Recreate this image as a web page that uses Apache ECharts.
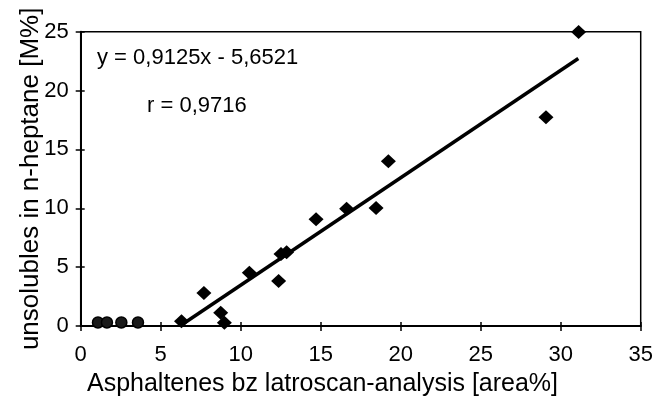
<!DOCTYPE html>
<html>
<head>
<meta charset="utf-8">
<script src="https://cdn.jsdelivr.net/npm/echarts@6/dist/echarts.min.js"></script>
<style>
html,body{margin:0;padding:0;background:#fff;}
#chart{width:660px;height:398px;}
</style>
</head>
<body>
<div id="chart"></div>
<script>
// Measured samples (x = Asphaltenes area%, y = unsolubles M%)
const samplesX = [6.3, 7.7, 8.75, 8.98, 10.54, 12.37, 12.52, 12.87, 14.71, 16.62, 18.46, 19.23, 29.08, 31.12];
const samplesY = [0.4, 2.8, 1.13, 0.28, 4.53, 3.83, 6.12, 6.26, 9.07, 9.95, 10.03, 14.0, 17.74, 24.97];
// Samples with no asphaltene response (hatched circles)
const zeroX = [1.08, 1.64, 2.54, 3.58];
const zeroY = [0.3, 0.3, 0.3, 0.3];
// Regression line endpoints
const fitX = [6.2, 31.1];
const fitY = [0.0, 22.73];
const xTicks = [0, 5, 10, 15, 20, 25, 30, 35];
const yTicks = [0, 5, 10, 15, 20, 25];
const equationText = 'y = 0,9125x - 5,6521';
const rText = 'r = 0,9716';
const xTitle = 'Asphaltenes bz latroscan-analysis [area%]';
const yTitle = 'unsolubles in n-heptane [M%]';

const FONT = '"Liberation Sans", Arial, sans-serif';

function makePattern() {
  const c = document.createElement('canvas');
  c.width = 4; c.height = 4;
  const g = c.getContext('2d');
  g.fillStyle = '#1a1a1a';
  g.fillRect(0, 0, 4, 4);
  g.fillStyle = '#d8d8d8';
  g.fillRect(2, 1, 1, 1);
  g.fillRect(1, 2, 1, 1);
  return c;
}

const chart = echarts.init(document.getElementById('chart'), null, {renderer: 'canvas'});
const pts = samplesX.map((x, i) => [x, samplesY[i]]);
const zpts = zeroX.map((x, i) => [x, zeroY[i]]);
const fit = fitX.map((x, i) => [x, fitY[i]]);

const axisCommon = {
  type: 'value',
  min: 0,
  interval: 5,
  splitLine: {show: false},
  axisLine: {show: true, onZero: false, lineStyle: {color: '#000', width: 2}},
  axisTick: {show: true, inside: false, length: 5, lineStyle: {color: '#000', width: 1.5}},
  axisLabel: {color: '#000', fontFamily: FONT, fontSize: 22}
};

chart.setOption({
  animation: false,
  backgroundColor: '#fff',
  grid: {left: 80.7, right: 19.3, top: 31.7, bottom: 72, show: true, borderColor: '#000', borderWidth: 1.5, backgroundColor: 'transparent'},
  xAxis: [
    Object.assign({}, axisCommon, {max: 35, position: 'bottom', axisLabel: Object.assign({}, axisCommon.axisLabel, {margin: 18, formatter: v => xTicks.includes(v) ? String(v) : ''})}),
    {type: 'value', min: 0, max: 35, interval: 5, position: 'bottom', splitLine: {show: false}, axisLine: {show: false, onZero: false}, axisLabel: {show: false}, axisTick: {show: true, inside: true, length: 4, lineStyle: {color: '#000', width: 1.5}}}
  ],
  yAxis: [
    Object.assign({}, axisCommon, {max: 25, position: 'left', axisLabel: Object.assign({}, axisCommon.axisLabel, {margin: 12, formatter: v => yTicks.includes(v) ? String(v) : ''}),
      name: yTitle, nameLocation: 'middle', nameGap: 37, nameMoveOverlap: false, nameTextStyle: {color: '#000', fontFamily: FONT, fontSize: 26}}),
    {type: 'value', min: 0, max: 25, interval: 5, position: 'left', splitLine: {show: false}, axisLine: {show: false, onZero: false}, axisLabel: {show: false}, axisTick: {show: true, inside: true, length: 4, lineStyle: {color: '#000', width: 1.5}}}
  ],
  graphic: [
    {type: 'text', x: 97, y: 58, style: {text: equationText, font: '22px ' + FONT, fill: '#000', textVerticalAlign: 'middle'}},
    {type: 'text', x: 147, y: 106, style: {text: rText, font: '22px ' + FONT, fill: '#000', textVerticalAlign: 'middle'}},
    {type: 'text', x: 322.5, y: 384, style: {text: xTitle, font: '25px ' + FONT, fill: '#000', textAlign: 'center', textVerticalAlign: 'middle'}}
  ],
  series: [
    {type: 'line', data: fit, showSymbol: false, symbol: 'none', lineStyle: {color: '#000', width: 3.5}, z: 2},
    {type: 'scatter', data: pts, symbol: 'diamond', symbolSize: [15, 14], itemStyle: {color: '#000', opacity: 1}, z: 3},
    {type: 'scatter', data: zpts, symbol: 'circle', symbolSize: 11, itemStyle: {color: {image: makePattern(), repeat: 'repeat'}, borderColor: '#000', borderWidth: 1.5, opacity: 1}, z: 3}
  ]
});
</script>
</body>
</html>
